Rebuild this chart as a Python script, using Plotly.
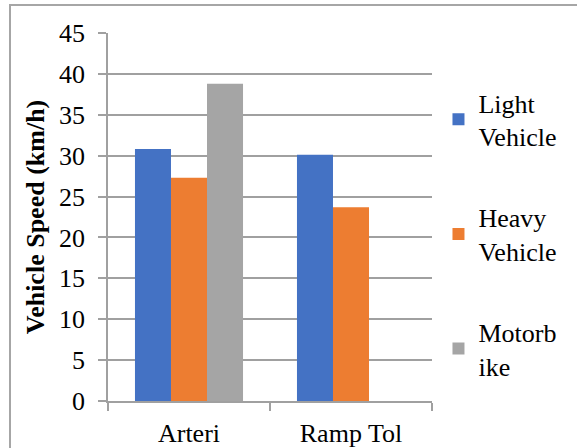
import plotly.graph_objects as go

# Average vehicle speed per road segment
categories = ["Arteri", "Ramp Tol"]
light_vehicle = [30.8, 30.1]
heavy_vehicle = [27.3, 23.7]
motorbike = [38.8, None]

series_names = ["Light<br>Vehicle", "Heavy<br>Vehicle", "Motorb<br>ike"]
series_values = [light_vehicle, heavy_vehicle, motorbike]
series_colors = ["#4472C4", "#ED7D31", "#A5A5A5"]

y_ticks = list(range(0, 50, 5))

FONT = "'Liberation Serif', 'Times New Roman', serif"
FS = 26
GRID = "#a0a0a0"

fig = go.Figure()
for i, (name, vals, col) in enumerate(zip(series_names, series_values, series_colors)):
    fig.add_trace(go.Bar(
        x=categories, y=vals, name=name, marker_color=col,
        marker_line_width=0, legendgroup=f"g{i}",
    ))

fig.update_layout(
    width=577, height=448,
    margin=dict(l=108, r=145, t=33, b=47),
    paper_bgcolor="white", plot_bgcolor="white",
    barmode="group", bargap=0.333, bargroupgap=0,
    font=dict(family=FONT, size=FS, color="black"),
    legend=dict(
        x=1.02, xanchor="left", y=0.875, yanchor="top",
        font=dict(family=FONT, size=FS, color="black"),
        tracegroupgap=44, itemclick=False,
    ),
    xaxis=dict(
        showline=True, linecolor=GRID, linewidth=1.5,
        ticks="outside", tickson="boundaries", ticklen=8,
        tickcolor=GRID, tickwidth=1.5, showgrid=False,
        tickfont=dict(family=FONT, size=FS),
        ticklabelstandoff=8, automargin=False,
    ),
    yaxis=dict(
        range=[0, 45], tickvals=y_ticks,
        showline=True, linecolor=GRID, linewidth=1.5,
        ticks="outside", ticklen=8, tickcolor=GRID, tickwidth=1.5,
        showgrid=True, gridcolor=GRID, gridwidth=1.5,
        zeroline=False,
        tickfont=dict(family=FONT, size=FS),
        ticklabelstandoff=8, automargin=False,
        title=dict(text="<b>Vehicle Speed (km/h)</b>",
                   font=dict(family=FONT, size=FS), standoff=7),
    ),
    shapes=[dict(
        type="rect", xref="paper", yref="paper",
        x0=(10 - 108) / 324, x1=(590 - 108) / 324,
        y0=(401 - 460) / 368, y1=(401 - 5) / 368,
        line=dict(color="#a6a6a6", width=2), fillcolor="rgba(0,0,0,0)",
        layer="below",
    )],
)

fig.write_html("out.html")
